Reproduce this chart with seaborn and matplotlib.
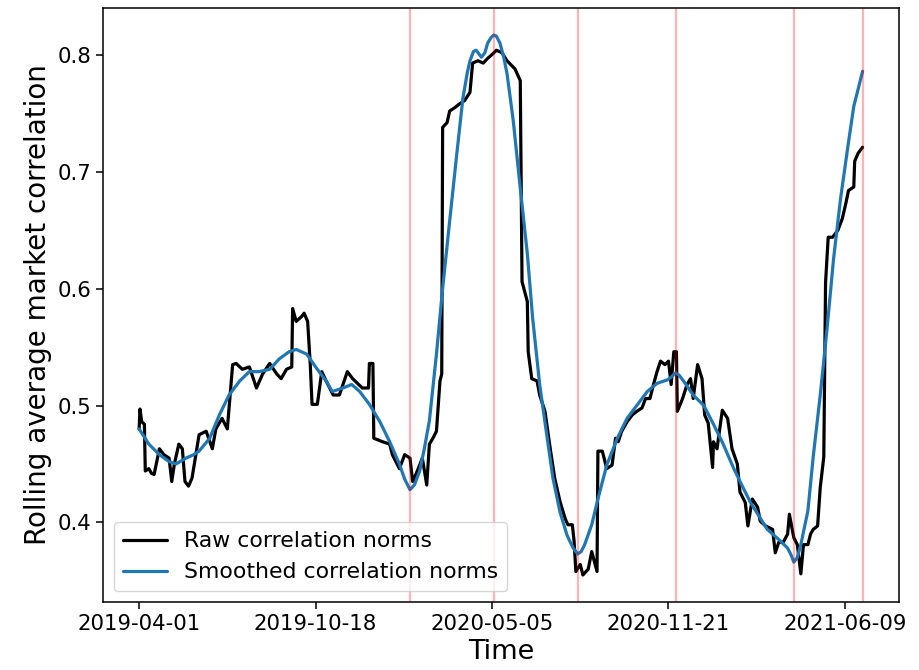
import matplotlib
matplotlib.use("Agg")
import matplotlib.pyplot as plt
import numpy as np
import pandas as pd
import seaborn as sns

# Start of the observation window; all offsets below are in days from here
start_date = "2019-04-01"

# Raw rolling-average correlation norm (day offset, value)
raw_days = [0, 1, 3, 6, 7, 11, 14, 17, 23, 28, 34, 37, 40, 45, 49, 52, 56, 60, 68, 76,
            83, 87, 94, 100, 106, 110, 117, 125, 133, 140, 148, 156, 161, 167, 173, 174,
            178, 184, 187, 191, 194, 196, 202, 207, 212, 220, 227, 236, 242, 253, 260,
            261, 265, 266, 276, 284, 287, 295, 301, 307, 310, 312, 318, 321, 326, 329,
            333, 337, 341, 343, 344, 349, 352, 358, 363, 369, 375, 378, 384, 390, 395,
            401, 405, 411, 417, 426, 432, 434, 440, 441, 445, 451, 454, 460, 466, 471,
            477, 483, 486, 491, 493, 495, 500, 503, 509, 513, 519, 520, 525, 530, 536,
            540, 543, 547, 553, 559, 564, 570, 574, 579, 583, 587, 591, 596, 600, 603,
            606, 609, 610, 616, 621, 625, 628, 633, 638, 641, 645, 650, 651, 655, 659,
            661, 667, 672, 678, 681, 687, 690, 695, 701, 704, 710, 718, 721, 725, 730,
            735, 737, 742, 746, 750, 753, 758, 761, 764, 769, 772, 776, 778, 781, 786,
            792, 797, 801, 804, 810, 811, 815, 820]
raw_values = [0.480, 0.497, 0.486, 0.484, 0.444, 0.446, 0.442, 0.441, 0.463, 0.458,
              0.455, 0.435, 0.450, 0.467, 0.463, 0.435, 0.431, 0.438, 0.475, 0.478,
              0.463, 0.480, 0.489, 0.480, 0.535, 0.536, 0.531, 0.533, 0.515, 0.527,
              0.536, 0.527, 0.523, 0.531, 0.533, 0.583, 0.572, 0.576, 0.579, 0.572,
              0.535, 0.501, 0.501, 0.529, 0.521, 0.509, 0.509, 0.529, 0.523, 0.515,
              0.515, 0.536, 0.536, 0.472, 0.469, 0.467, 0.458, 0.446, 0.458, 0.455,
              0.435, 0.438, 0.449, 0.455, 0.432, 0.467, 0.472, 0.478, 0.521, 0.527,
              0.738, 0.742, 0.752, 0.755, 0.758, 0.761, 0.768, 0.793, 0.795, 0.793,
              0.797, 0.801, 0.804, 0.802, 0.795, 0.788, 0.778, 0.606, 0.589, 0.546,
              0.523, 0.521, 0.509, 0.495, 0.463, 0.438, 0.418, 0.403, 0.398, 0.398,
              0.384, 0.358, 0.364, 0.355, 0.360, 0.375, 0.358, 0.461, 0.461, 0.446,
              0.449, 0.472, 0.469, 0.478, 0.486, 0.492, 0.495, 0.498, 0.506, 0.506,
              0.518, 0.529, 0.538, 0.535, 0.538, 0.518, 0.546, 0.546, 0.495, 0.506,
              0.518, 0.523, 0.506, 0.535, 0.523, 0.492, 0.485, 0.447, 0.469, 0.463,
              0.485, 0.496, 0.489, 0.463, 0.450, 0.426, 0.417, 0.397, 0.420, 0.413,
              0.401, 0.397, 0.394, 0.374, 0.383, 0.383, 0.390, 0.407, 0.387, 0.381,
              0.356, 0.381, 0.381, 0.390, 0.394, 0.397, 0.430, 0.456, 0.605, 0.644,
              0.644, 0.650, 0.660, 0.673, 0.684, 0.687, 0.709, 0.716, 0.721]

# Smoothed correlation norm (day offset, value)
smooth_days = [0, 11, 23, 34, 42, 53, 62, 68, 80, 91, 102, 114, 125, 136, 148, 159, 170,
               178, 190, 201, 212, 219, 231, 241, 250, 261, 273, 284, 295, 301, 307, 312,
               318, 323, 329, 337, 344, 352, 360, 367, 372, 375, 379, 382, 385, 388, 392,
               395, 399, 402, 405, 409, 413, 417, 424, 432, 440, 446, 454, 462, 469, 477,
               485, 492, 497, 501, 505, 513, 520, 530, 542, 553, 565, 576, 587, 599, 604,
               608, 612, 617, 628, 640, 651, 662, 674, 685, 693, 712, 727, 735, 739, 742,
               746, 750, 758, 764, 772, 780, 787, 795, 803, 810, 820]
smooth_values = [0.480, 0.467, 0.458, 0.452, 0.450, 0.455, 0.458, 0.461, 0.472, 0.492,
                 0.509, 0.521, 0.529, 0.529, 0.531, 0.540, 0.546, 0.548, 0.544, 0.532,
                 0.521, 0.512, 0.515, 0.518, 0.512, 0.501, 0.486, 0.469, 0.450, 0.437,
                 0.428, 0.432, 0.444, 0.462, 0.487, 0.544, 0.600, 0.658, 0.715, 0.763,
                 0.785, 0.795, 0.803, 0.804, 0.801, 0.798, 0.802, 0.810, 0.815, 0.817,
                 0.816, 0.810, 0.799, 0.784, 0.744, 0.686, 0.630, 0.575, 0.518, 0.475,
                 0.438, 0.409, 0.389, 0.378, 0.373, 0.375, 0.381, 0.398, 0.420, 0.449,
                 0.472, 0.489, 0.501, 0.512, 0.519, 0.522, 0.525, 0.528, 0.526, 0.521,
                 0.509, 0.500, 0.484, 0.467, 0.446, 0.429, 0.417, 0.394, 0.384, 0.378,
                 0.372, 0.366, 0.370, 0.381, 0.410, 0.456, 0.509, 0.568, 0.625, 0.677,
                 0.720, 0.756, 0.786]

# Turning points of the smoothed series
turning_points = ["2020-02-02", "2020-05-07", "2020-08-10", "2020-11-29",
                  "2021-04-12", "2021-06-29"]

tick_labels = ["2019-04-01", "2019-10-18", "2020-05-05", "2020-11-21", "2021-06-09"]

origin = pd.Timestamp(start_date)
raw_df = pd.DataFrame({
    "date": origin + pd.to_timedelta(raw_days, unit="D"),
    "value": raw_values,
})
smooth_df = pd.DataFrame({
    "date": origin + pd.to_timedelta(smooth_days, unit="D"),
    "value": smooth_values,
})

sns.set_theme(style="ticks", rc={
    "axes.edgecolor": "black",
    "axes.labelcolor": "black",
    "text.color": "black",
    "xtick.color": "black",
    "ytick.color": "black",
    "axes.linewidth": 1.1,
    "xtick.major.size": 5,
    "ytick.major.size": 5,
    "xtick.major.width": 1.1,
    "ytick.major.width": 1.1,
})
plt.rcParams["font.family"] = ["DejaVu Sans"]

fig = plt.figure(figsize=(9.19, 6.70), dpi=100)
ax = fig.add_axes([0.112, 0.1015, 0.866, 0.8865])

sns.lineplot(data=raw_df, x="date", y="value", color="black", linewidth=2.3,
             label="Raw correlation norms", ax=ax)
sns.lineplot(data=smooth_df, x="date", y="value", color="#1f77b4", linewidth=2.3,
             label="Smoothed correlation norms", ax=ax)

for d in turning_points:
    ax.axvline(pd.Timestamp(d), color="red", alpha=0.3, linewidth=1.6)

ax.set_xticks(pd.to_datetime(tick_labels))
ax.set_xticklabels(tick_labels)
ax.tick_params(axis="both", labelsize=15.3)

ax.set_xlabel("Time", fontsize=19.5)
ax.set_ylabel("Rolling average market correlation", fontsize=20)

ax.legend(loc="lower left", fontsize=15.8, frameon=True)

fig.savefig("out.png", dpi=100)
